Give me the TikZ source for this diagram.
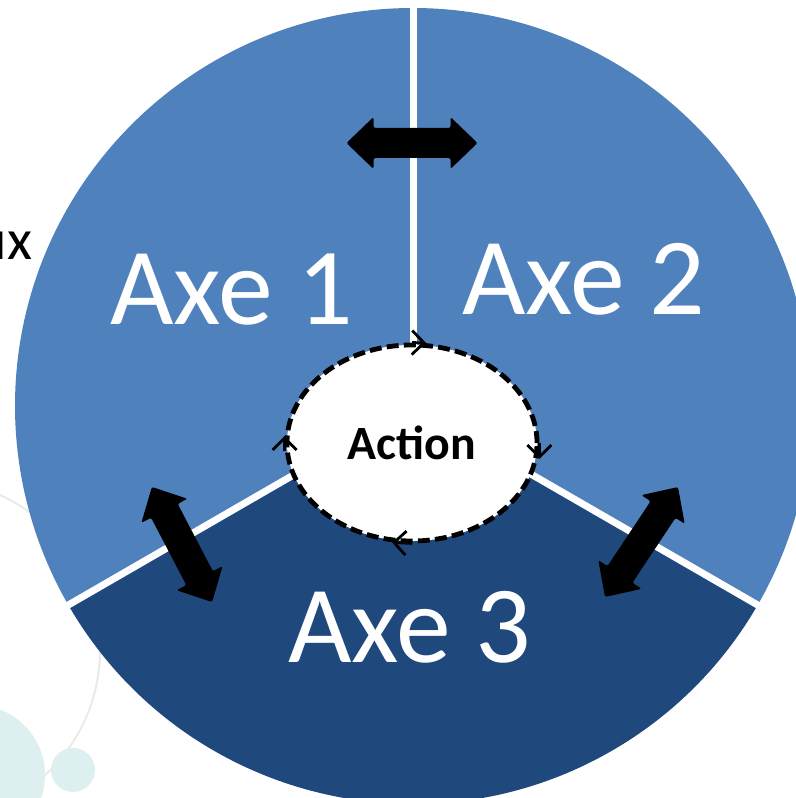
\documentclass[tikz,border=0pt]{standalone}
\usepackage{fontspec}
\setmainfont{Carlito}
\usepackage{xcolor}
\usepackage{tikz}
\usetikzlibrary{shapes,arrows.meta,positioning,calc}
\definecolor{axelight}{HTML}{4F81BD}
\definecolor{axedark}{HTML}{1F497D}
\definecolor{bgteal}{HTML}{DDEFEF}
\definecolor{bggray}{HTML}{EAEAEA}

\begin{document}
\begin{tikzpicture}[x=0.025cm, y=0.025cm,
    axelabel/.style={text=white, anchor=base, font=\fontsize{78}{84}\selectfont},
    cyclebarb/.style={line width=2pt, -{Straight Barb[length=0.3cm, width=0.6cm]}},
  ]
    \useasboundingbox (0,0) rectangle (796,798);
    \clip (0,0) rectangle (796,798);

    % faint slide background
    \draw[bggray, line width=0.05cm] (-70,148) circle (170);
    \fill[bgteal] (-25,23) circle (70);
    \fill[bgteal] (73,28) circle (22);
    \node[anchor=base east, font=\fontsize{41}{44}\selectfont] (ux) at (37,538) {ux};

    \coordinate (c) at (413,392);
    \fill[axelight] (c) -- ++(90:398) arc[start angle=90, end angle=210, radius=398] -- cycle;
    \fill[axelight] (c) -- ++(-30:398) arc[start angle=-30, end angle=90, radius=398] -- cycle;
    \fill[axedark] (c) -- ++(210:398) arc[start angle=210, end angle=330, radius=398] -- cycle;
    \foreach \ang in {90,210,330}
        \draw[white, line width=0.175cm] (c) -- ++(\ang:420);

    \node[axelabel] (axe1) at (232,473) {Axe 1};
    \node[axelabel] (axe2) at (584,483) {Axe 2};
    \node[axelabel] (axe3) at (410,135) {Axe 3};

    % double block arrows between the axes
    \foreach \x/\y/\ang/\h in {412/655/0/65.5, 182/253.5/-62.4/65, 641.5/256/56.4/66}
        \fill[rounded corners=1.5pt, shift={(\x,\y)}, rotate=\ang]
            (-\h,0) -- (-\h+27,26) -- (-\h+27,15) -- (\h-27,15) -- (\h-27,26) -- (\h,0)
            -- (\h-27,-26) -- (\h-27,-15) -- (-\h+27,-15) -- (-\h+27,-26) -- cycle;

    \node[ellipse, draw, fill=white, line width=0.12cm, dash pattern=on 0.3cm off 0.13cm,
        minimum width=6.25cm, minimum height=4.9cm, inner sep=0pt,
        font=\bfseries\fontsize{34}{40}\selectfont] (act) at (412,355) {Action};
    \draw[cyclebarb] (act.north) -- ++(14,-0.3);
    \draw[cyclebarb] (act.east) -- ++(0,-16);
    \draw[cyclebarb] (act.south) -- ++(-20,1);
    \draw[cyclebarb] ($(act.west)+(0,-8)$) -- ++(0,15);
\end{tikzpicture}
\end{document}
